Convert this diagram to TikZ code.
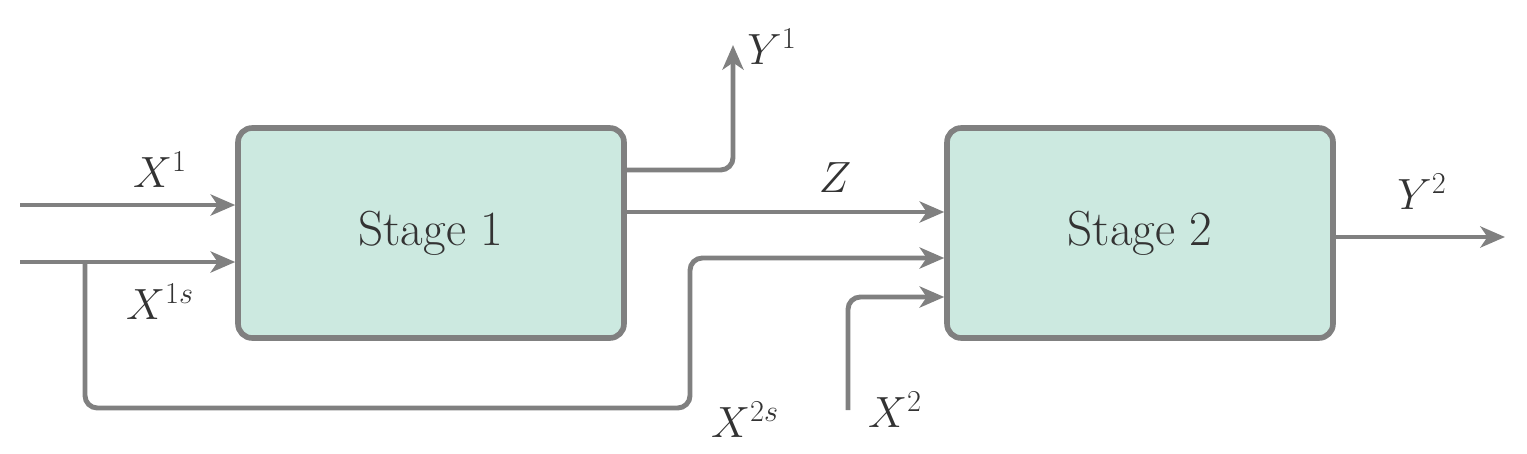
\documentclass[tikz,border=0pt]{standalone}
\usepackage{tikz}
\usetikzlibrary{arrows.meta,positioning}
\definecolor{boxfill}{HTML}{CCE9E0}
\definecolor{linegray}{HTML}{808080}
\definecolor{txt}{HTML}{333333}
\begin{document}
\begin{tikzpicture}[x=0.02cm,y=-0.02cm,
    stage/.style={rectangle,rounded corners=8pt,draw=linegray,line width=3.2pt,fill=boxfill,
      minimum width=7.72cm,minimum height=4.2cm,text=txt,font=\fontsize{28}{32}\selectfont},
    flow/.style={draw=linegray,line width=2.8pt,rounded corners=7pt,-{Stealth[length=14pt,width=12pt,inset=4pt]}},
    lab/.style={text=txt,font=\fontsize{24}{28}\selectfont}]
  \useasboundingbox (0,0) rectangle (1527,453);

  % stages
  \node[stage] (s1) at (431,233) {Stage 1};
  \node[stage] (s2) at (1140,233) {Stage 2};

  % free ends
  \coordinate (x1in) at (20,205);
  \coordinate (x1sin) at (20,262);
  \coordinate (y1out) at (733,45);
  \coordinate (x2in) at (848,410);
  \coordinate (y2out) at (1505,237);

  % inputs of stage 1
  \draw[flow] (x1in) -- (x1in -| s1.west);
  \draw[flow] (x1sin) -- (x1sin -| s1.west);
  \draw[flow] (85,262) -- (85,408) -- (690,408) -- (690,258) -- (s2.west |- 0,258);

  % outputs of stage 1
  \draw[flow] (s1.east |- 0,170) -- (y1out |- 0,170) -- (y1out);
  \draw[flow] (s1.east |- 0,212) -- (s2.west |- 0,212);

  % stage 2
  \draw[flow] (x2in) -- (848,297) -- (s2.west |- 0,297);
  \draw[flow] (s2.east |- y2out) -- (y2out);

  % labels
  \node[lab] (lx1) at (160,170) {$X^1$};
  \node[lab] (lx1s) at (160,302) {$X^{1s}$};
  \node[lab] (lx2s) at (745,420) {$X^{2s}$};
  \node[lab] (lz) at (835,178) {$Z$};
  \node[lab] (ly1) at (772,47) {$Y^1$};
  \node[lab] (lx2) at (895,410) {$X^2$};
  \node[lab] (ly2) at (1422,192) {$Y^2$};
\end{tikzpicture}
\end{document}
